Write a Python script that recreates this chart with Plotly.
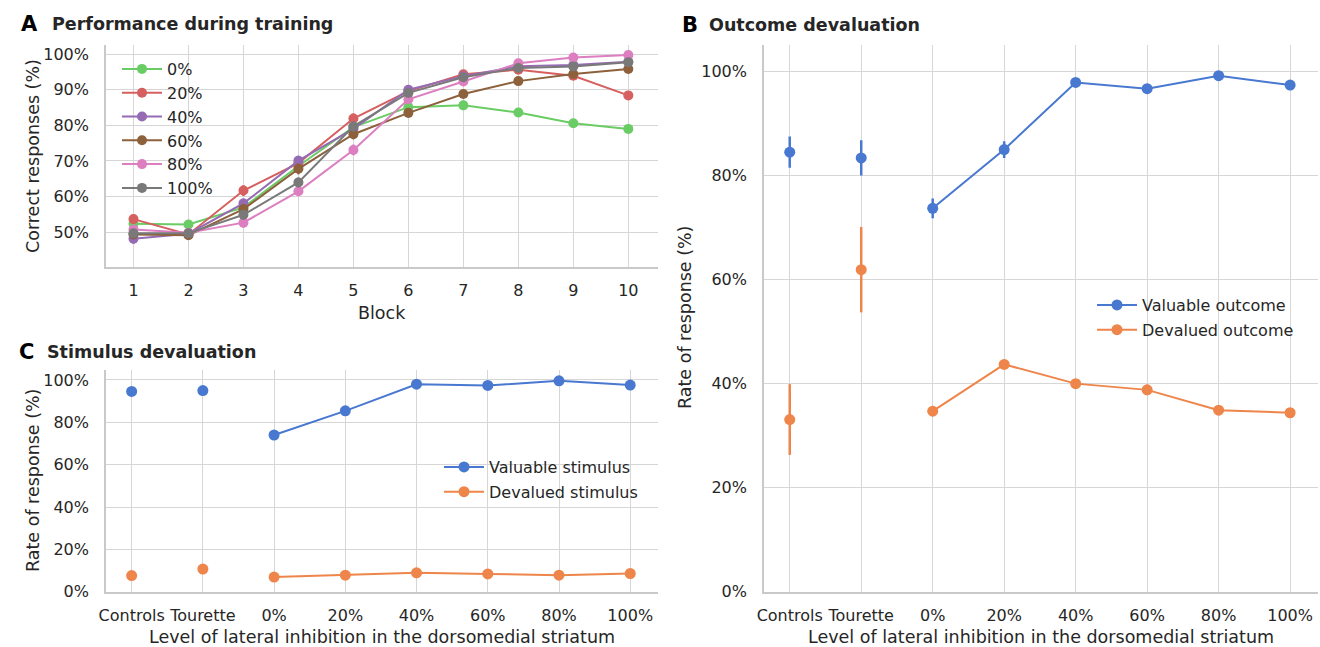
import plotly.graph_objects as go

# ---------------- data ----------------
blocks = [1, 2, 3, 4, 5, 6, 7, 8, 9, 10]
train_names = ["0%", "20%", "40%", "60%", "80%", "100%"]
train_0 = [52.4, 52.2, 57.0, 68.6, 79.5, 85.1, 85.6, 83.6, 80.6, 79.0]
train_20 = [53.7, 49.4, 61.7, 69.4, 81.9, 89.6, 94.3, 95.6, 93.9, 88.4]
train_40 = [48.2, 49.6, 58.1, 70.1, 79.0, 90.0, 93.8, 96.6, 96.9, 97.8]
train_60 = [49.4, 49.2, 56.5, 67.8, 77.5, 83.5, 88.8, 92.4, 94.4, 95.8]
train_80 = [50.8, 49.9, 52.7, 61.5, 73.1, 87.3, 92.3, 97.4, 99.0, 99.7]
train_100 = [49.7, 49.7, 54.9, 64.0, 79.7, 89.1, 93.5, 96.1, 96.5, 97.7]
train_err_0 = [1.2, 1.0, 1.3, 1.4, 1.3, 1.2, 1.1, 1.2, 1.2, 1.2]
train_err_20 = [1.3, 1.1, 1.5, 1.4, 1.4, 1.1, 0.9, 0.9, 1.0, 1.2]
train_err_40 = [1.4, 1.1, 1.4, 1.4, 1.3, 1.1, 0.9, 0.8, 0.8, 0.7]
train_err_60 = [1.2, 1.1, 1.4, 1.5, 1.4, 1.3, 1.1, 1.0, 0.9, 0.8]
train_err_80 = [1.2, 1.0, 1.4, 1.4, 1.5, 1.2, 1.0, 0.8, 0.6, 0.5]
train_err_100 = [1.2, 1.0, 1.3, 1.4, 1.4, 1.1, 0.9, 0.8, 0.8, 0.7]

patient_groups = ["Controls", "Tourette"]
levels = ["0%", "20%", "40%", "60%", "80%", "100%"]

# Panel B: outcome devaluation
out_val_patients = [84.5, 83.4]
out_val_patients_err = [3.0, 3.4]
out_dev_patients = [33.1, 61.9]
out_dev_patients_err = [6.8, 8.2]
out_val_model = [73.7, 85.0, 97.9, 96.7, 99.2, 97.4]
out_val_model_err = [1.9, 1.6, 0.8, 0.8, 0.5, 0.7]
out_dev_model = [34.7, 43.7, 40.0, 38.8, 34.9, 34.4]
out_dev_model_err = [0.8, 0.9, 0.8, 1.0, 0.8, 0.7]

# Panel C: stimulus devaluation
stim_val_patients = [94.6, 95.0]
stim_val_patients_err = [0.6, 0.6]
stim_dev_patients = [7.6, 10.7]
stim_dev_patients_err = [0.6, 0.7]
stim_val_model = [74.0, 85.4, 98.0, 97.4, 99.6, 97.6]
stim_val_model_err = [0.6, 0.6, 0.4, 0.4, 0.3, 0.4]
stim_dev_model = [6.9, 7.8, 8.9, 8.4, 7.8, 8.6]
stim_dev_model_err = [0.4, 0.4, 0.4, 0.4, 0.4, 0.4]

# tick labels
train_yticks = [50, 60, 70, 80, 90, 100]
train_yticklabels = ["50%", "60%", "70%", "80%", "90%", "100%"]
rate_yticks = [0, 20, 40, 60, 80, 100]
rate_yticklabels = ["0%", "20%", "40%", "60%", "80%", "100%"]

# ---------------- style ----------------
W, H = 1320, 647
FONT = "DejaVu Sans"
TXT = "#262626"
GRID = "#d6d6d6"
SPINE = "#c9c9c9"
BLUE, ORANGE = "#4878d0", "#ee854a"
train_colors = ["#6acc64", "#d65f5f", "#956cb4", "#8c613c", "#dc7ec0", "#797979"]


def px(x):
    return x / W


def py(y):
    return 1 - y / H


fig = go.Figure()

# Panel A
train_series = [train_0, train_20, train_40, train_60, train_80, train_100]
train_errs = [train_err_0, train_err_20, train_err_40, train_err_60, train_err_80, train_err_100]
for name, ys, es, col in zip(train_names, train_series, train_errs, train_colors):
    fig.add_trace(go.Scatter(
        x=blocks, y=ys, name=name, mode="lines+markers",
        line=dict(color=col, width=2),
        marker=dict(color=col, size=10),
        error_y=dict(type="data", array=es, color=col, thickness=2.5, width=0),
        xaxis="x", yaxis="y", legend="legend", legendgroup="a" + name,
    ))


def add_pair(xax, yax, leg, pat_vals, pat_err, mod_vals, mod_err, col, name):
    fig.add_trace(go.Scatter(
        x=patient_groups, y=pat_vals, mode="markers", name=name,
        marker=dict(color=col, size=11),
        error_y=dict(type="data", array=pat_err, color=col, thickness=2.5, width=0),
        xaxis=xax, yaxis=yax, legend=leg, legendgroup=leg + name, showlegend=False,
    ))
    fig.add_trace(go.Scatter(
        x=levels, y=mod_vals, mode="lines+markers", name=name,
        line=dict(color=col, width=2),
        marker=dict(color=col, size=11),
        error_y=dict(type="data", array=mod_err, color=col, thickness=2.5, width=0),
        xaxis=xax, yaxis=yax, legend=leg, legendgroup=leg + name,
    ))


# Panel B (x3/y3)
add_pair("x3", "y3", "legend2", out_val_patients, out_val_patients_err,
         out_val_model, out_val_model_err, BLUE, "Valuable outcome")
add_pair("x3", "y3", "legend2", out_dev_patients, out_dev_patients_err,
         out_dev_model, out_dev_model_err, ORANGE, "Devalued outcome")

# Panel C (x2/y2)
add_pair("x2", "y2", "legend3", stim_val_patients, stim_val_patients_err,
         stim_val_model, stim_val_model_err, BLUE, "Valuable stimulus")
add_pair("x2", "y2", "legend3", stim_dev_patients, stim_dev_patients_err,
         stim_dev_model, stim_dev_model_err, ORANGE, "Devalued stimulus")

all_cats = patient_groups + levels

common_axis = dict(
    showgrid=True, gridcolor=GRID, gridwidth=1.3,
    showline=True, linecolor=SPINE, linewidth=1.6,
    zeroline=False, ticks="outside", tickcolor="rgba(0,0,0,0)",
    tickfont=dict(family=FONT, size=16, color=TXT),
    automargin=False, fixedrange=True,
)

legend_common = dict(xanchor="left", yanchor="top", bgcolor="rgba(0,0,0,0)",
                     font=dict(family=FONT, size=16, color=TXT), itemwidth=40)

fig.update_layout(
    width=W, height=H,
    margin=dict(l=0, r=0, t=0, b=0),
    paper_bgcolor="white", plot_bgcolor="white",
    font=dict(family=FONT, size=16, color=TXT),
    xaxis=dict(common_axis, domain=[px(106), px(658)], range=[0.5, 10.54],
               tickmode="array", tickvals=blocks, ticklen=8, anchor="y"),
    yaxis=dict(common_axis, domain=[py(266.7), py(45)], range=[40.35, 102.53],
               tickmode="array", tickvals=train_yticks, ticktext=train_yticklabels,
               ticklen=12, anchor="x"),
    xaxis2=dict(common_axis, domain=[px(106), px(658)], range=[-0.36, 7.39],
                type="category", categoryorder="array", categoryarray=all_cats,
                ticklen=8, anchor="y2"),
    yaxis2=dict(common_axis, domain=[py(591.7), py(370)], range=[0, 104.7],
                tickmode="array", tickvals=rate_yticks, ticktext=rate_yticklabels,
                ticklen=12, anchor="x2"),
    xaxis3=dict(common_axis, domain=[px(764), px(1318)], range=[-0.36, 7.39],
                type="category", categoryorder="array", categoryarray=all_cats,
                ticklen=8, anchor="y3"),
    yaxis3=dict(common_axis, domain=[py(591.7), py(45)], range=[0, 105.1],
                tickmode="array", tickvals=rate_yticks, ticktext=rate_yticklabels,
                ticklen=12, anchor="x3"),
    legend=dict(legend_common, x=px(117), y=py(52), tracegroupgap=0),
    legend2=dict(legend_common, x=px(1092), y=py(288), tracegroupgap=1),
    legend3=dict(legend_common, x=px(439), y=py(450), tracegroupgap=1),
)

annotations = [
    # panel letters and titles
    dict(text="<b>A</b>", x=px(19), y=py(24), font=dict(size=21, color="black"), xanchor="left"),
    dict(text="<b>Performance during training</b>", x=px(50), y=py(24), font=dict(size=17.5, color=TXT), xanchor="left"),
    dict(text="<b>B</b>", x=px(680), y=py(25), font=dict(size=21, color="black"), xanchor="left"),
    dict(text="<b>Outcome devaluation</b>", x=px(707), y=py(25), font=dict(size=17.5, color=TXT), xanchor="left"),
    dict(text="<b>C</b>", x=px(17), y=py(352), font=dict(size=21, color="black"), xanchor="left"),
    dict(text="<b>Stimulus devaluation</b>", x=px(45), y=py(352), font=dict(size=17.5, color=TXT), xanchor="left"),
    # axis titles
    dict(text="Block", x=px(382), y=py(313), font=dict(size=17.5, color=TXT), xanchor="center"),
    dict(text="Correct responses (%)", x=px(33), y=py(156), textangle=-90, font=dict(size=17.5, color=TXT)),
    dict(text="Level of lateral inhibition in the dorsomedial striatum", x=px(382), y=py(637),
         font=dict(size=17.5, color=TXT), xanchor="center"),
    dict(text="Rate of response (%)", x=px(33), y=py(481), textangle=-90, font=dict(size=17.5, color=TXT)),
    dict(text="Level of lateral inhibition in the dorsomedial striatum", x=px(1041), y=py(637),
         font=dict(size=17.5, color=TXT), xanchor="center"),
    dict(text="Rate of response (%)", x=px(685), y=py(318), textangle=-90, font=dict(size=17.5, color=TXT)),
]
for a in annotations:
    a.update(xref="paper", yref="paper", showarrow=False, yanchor="middle")
    a.setdefault("xanchor", "center")
    a["font"]["family"] = FONT
fig.update_layout(annotations=annotations)

fig.write_html("out.html")
